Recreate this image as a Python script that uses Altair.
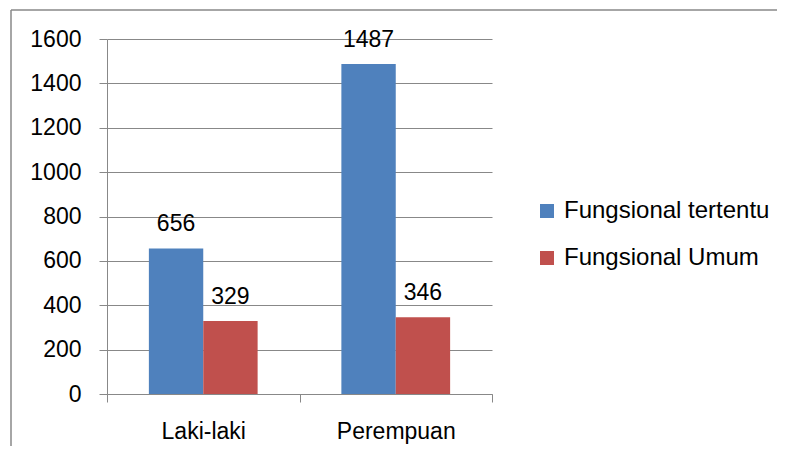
import altair as alt
import pandas as pd

categories = ["Laki-laki", "Perempuan"]
series = ["Fungsional tertentu", "Fungsional Umum"]
fungsional_tertentu = [656, 1487]
fungsional_umum = [329, 346]
colors = ["#4F81BD", "#C0504D"]
y_ticks = [0, 200, 400, 600, 800, 1000, 1200, 1400, 1600]

rows = []
for i, c in enumerate(categories):
    rows.append({"Jenis": c, "Seri": series[0], "Nilai": fungsional_tertentu[i]})
    rows.append({"Jenis": c, "Seri": series[1], "Nilai": fungsional_umum[i]})
df = pd.DataFrame(rows)

FONT = "Liberation Sans"
FS = 23

base = alt.Chart(df).encode(
    x=alt.X("Jenis:N", sort=categories, title=None,
            scale=alt.Scale(paddingInner=0, paddingOuter=0),
            axis=alt.Axis(labelAngle=0, tickBand="extent", tickSize=8,
                          labelPadding=18, grid=False, domainColor="#888888",
                          tickColor="#888888", labelFontSize=FS)),
    xOffset=alt.XOffset("Seri:N", sort=series,
                        scale=alt.Scale(paddingInner=0, paddingOuter=0.77)),
    y=alt.Y("Nilai:Q", title=None,
            scale=alt.Scale(domain=[0, 1600], nice=False),
            axis=alt.Axis(values=y_ticks, format="d", tickSize=8, labelPadding=18,
                          grid=True, gridColor="#888888", domainColor="#888888",
                          tickColor="#888888", labelFontSize=FS)),
)

bars = base.mark_bar().encode(
    color=alt.Color("Seri:N", sort=series,
                    scale=alt.Scale(domain=series, range=colors),
                    legend=alt.Legend(title=None, orient="none", legendX=428,
                                      legendY=160, symbolType="square",
                                      symbolSize=196, symbolStrokeWidth=0,
                                      labelFontSize=24, labelOffset=5,
                                      rowPadding=23, labelLimit=400))
)

labels = base.mark_text(dy=-17, baseline="alphabetic", fontSize=FS,
                        font=FONT, color="black").encode(text="Nilai:Q")

one = pd.DataFrame({"k": [0]})
frame_left = alt.Chart(one).mark_rule(color="#888888", strokeWidth=1.5).encode(
    x=alt.value(-96), y=alt.value(-29), y2=alt.value(500))
frame_top = alt.Chart(one).mark_rule(color="#888888", strokeWidth=1.5).encode(
    y=alt.value(-29), x=alt.value(-96), x2=alt.value(800))

chart = alt.layer(bars, labels, frame_left, frame_top).properties(
    width=385, height=355,
    autosize=alt.AutoSizeParams(type="none"),
    padding={"left": 99, "top": 31, "right": 285, "bottom": 52},
).configure_view(stroke=None).configure_axis(
    labelFont=FONT, labelColor="black"
).configure_legend(labelFont=FONT, labelColor="black")

chart.save("out.html", embed_options={"renderer": "svg", "actions": False})
